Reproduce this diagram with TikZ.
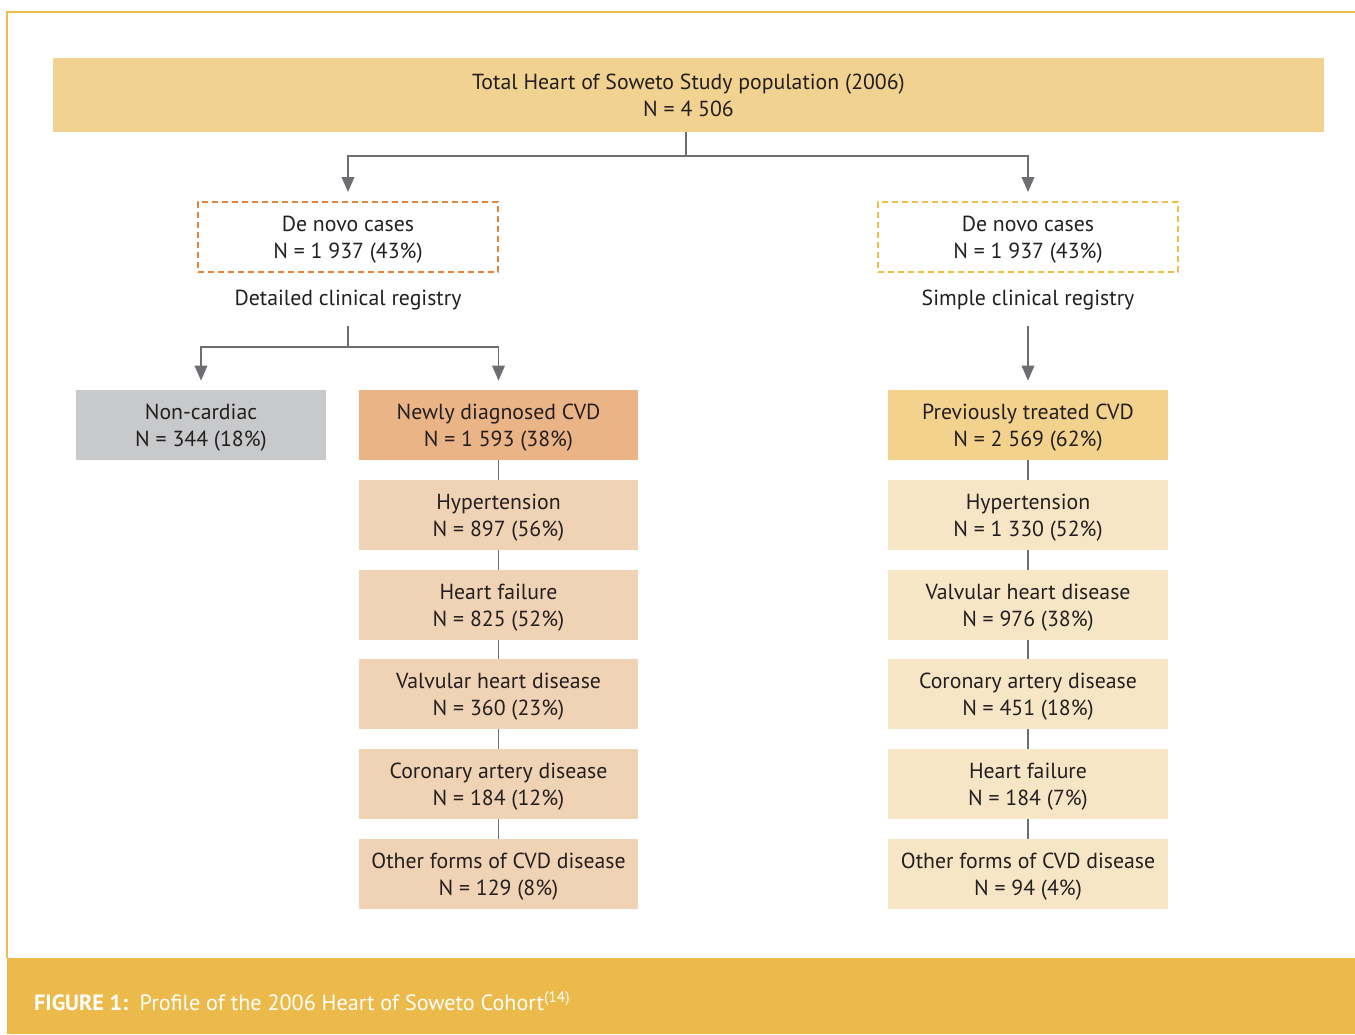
\documentclass[tikz,border=0pt]{standalone}
\usepackage{fontspec}
\setmainfont{PT Sans}
\usetikzlibrary{positioning,arrows.meta}

\definecolor{topfill}{HTML}{F2D291}
\definecolor{capfill}{HTML}{EBBA4A}
\definecolor{framecol}{HTML}{F0BC50}
\definecolor{novoorange}{HTML}{E8843A}
\definecolor{novoyellow}{HTML}{F2BC45}
\definecolor{noncardfill}{HTML}{C8C9CB}
\definecolor{newlyfill}{HTML}{EBB487}
\definecolor{newchain}{HTML}{F0D2B4}
\definecolor{prevfill}{HTML}{F2D28C}
\definecolor{prevchain}{HTML}{F7E6C5}
\definecolor{linegray}{HTML}{6D6E71}
\definecolor{textcol}{HTML}{231F20}

\begin{document}
\begin{tikzpicture}[x=0.02cm,y=-0.02cm,
		every node/.style={font=\fontsize{12.4}{15.4}\selectfont,text=textcol,align=center},
		box/.style={minimum width=5.6cm,minimum height=1.4cm,inner sep=0pt,text depth=-1.8pt},
		novo/.style={box,minimum width=6cm,draw,line width=1.1pt,dash pattern=on 0.12cm off 0.08cm},
		conn/.style={draw=linegray,line width=1.1pt},
		arr/.style={conn,-{Triangle[length=0.3cm,width=0.25cm]},shorten >=0.18cm}]
			\useasboundingbox (0,0) rectangle (1355,1034);
			\fill[capfill] (7,958) rectangle (1355,1034);
			\draw[framecol,line width=1.2pt] (1355,12) -- (7,12) -- (7,958);
			\node[anchor=west,text=white,font=\fontsize{12.6}{14}\selectfont] (caption) at (28,1001)
				{\textbf{FIGURE 1:}\, Profile of the 2006 Heart of Soweto Cohort\textsuperscript{(14)}};

			\node[box,fill=topfill,minimum width=25.42cm,minimum height=1.48cm] (total) at (688.5,95)
				{Total Heart of Soweto Study population (2006)\\ N = 4 506};
			\node[novo,draw=novoorange] (novoL) at (348,237) {De novo cases\\ N = 1 937 (43\%)};
			\node[novo,draw=novoyellow] (novoR) at (1028,237) {De novo cases\\ N = 1 937 (43\%)};
			\node (detail) at (348,300) {Detailed clinical registry};
			\node (simple) at (1028,300) {Simple clinical registry};

			\node[box,fill=noncardfill,minimum width=5cm] (noncard) at (201,425) {Non-cardiac\\ N = 344 (18\%)};
			\node[box,fill=newlyfill] (newly) at (498.5,425) {Newly diagnosed CVD\\ N = 1 593 (38\%)};
			\node[box,fill=newchain] (newA) at (498.5,515) {Hypertension\\ N = 897 (56\%)};
			\node[box,fill=newchain] (newB) at (498.5,605) {Heart failure\\ N = 825 (52\%)};
			\node[box,fill=newchain] (newC) at (498.5,694) {Valvular heart disease\\ N = 360 (23\%)};
			\node[box,fill=newchain] (newD) at (498.5,784) {Coronary artery disease\\ N = 184 (12\%)};
			\node[box,fill=newchain] (newE) at (498.5,874) {Other forms of CVD disease\\ N = 129 (8\%)};

			\node[box,fill=prevfill] (prev) at (1028,425) {Previously treated CVD\\ N = 2 569 (62\%)};
			\node[box,fill=prevchain] (prevA) at (1028,515) {Hypertension\\ N = 1 330 (52\%)};
			\node[box,fill=prevchain] (prevB) at (1028,605) {Valvular heart disease\\ N = 976 (38\%)};
			\node[box,fill=prevchain] (prevC) at (1028,694) {Coronary artery disease\\ N = 451 (18\%)};
			\node[box,fill=prevchain] (prevD) at (1028,784) {Heart failure\\ N = 184 (7\%)};
			\node[box,fill=prevchain] (prevE) at (1028,874) {Other forms of CVD disease\\ N = 94 (4\%)};

			\coordinate (splitTop) at (686,156);
			\coordinate (splitL) at (348,347);
			\path[conn] (686,132) -- (splitTop);
			\path[arr] (splitTop) -| (novoL);
			\path[arr] (splitTop) -| (novoR);
			\path[conn] (detail.south) ++(0,10) -- (splitL);
			\path[arr] (splitL) -| (noncard);
			\path[arr] (splitL) -| (newly);
			\path[arr] ([yshift=-0.2cm]simple.south) -- (prev);

			\foreach \a/\b in {newly/newA,newA/newB,newB/newC,newC/newD,newD/newE,
				prev/prevA,prevA/prevB,prevB/prevC,prevC/prevD,prevD/prevE}
				\path[draw=linegray,line width=0.8pt] (\a) -- (\b);
		\end{tikzpicture}
\end{document}
